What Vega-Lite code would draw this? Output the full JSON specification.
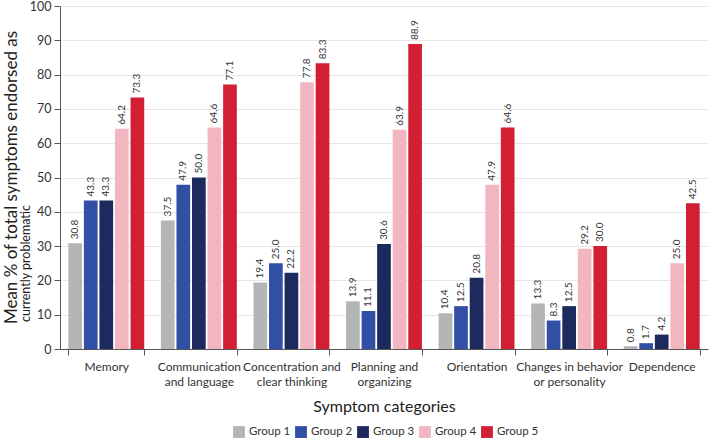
{
  "$schema": "https://vega.github.io/schema/vega-lite/v6.json",
  "width": 648,
  "height": 343,
  "autosize": {"type": "none"},
  "padding": {"left": 60, "top": 6, "right": 1, "bottom": 94},
  "background": "white",
  "title": {
    "text": "Mean % of total symptoms endorsed as",
    "orient": "left",
    "anchor": "middle",
    "frame": "group",
    "fontSize": 17,
    "fontWeight": "normal",
    "color": "#222222",
    "offset": -2
  },
  "config": {
    "font": "Lato",
    "view": {"stroke": null},
    "axis": {"labelColor": "#333333", "titleColor": "#222222", "titleFontWeight": "normal"}
  },
  "data": {
    "values": [
      {"category": "Memory", "group": "Group 1", "value": 30.8},
      {"category": "Memory", "group": "Group 2", "value": 43.3},
      {"category": "Memory", "group": "Group 3", "value": 43.3},
      {"category": "Memory", "group": "Group 4", "value": 64.2},
      {"category": "Memory", "group": "Group 5", "value": 73.3},
      {"category": "Communication and language", "group": "Group 1", "value": 37.5},
      {"category": "Communication and language", "group": "Group 2", "value": 47.9},
      {"category": "Communication and language", "group": "Group 3", "value": 50.0},
      {"category": "Communication and language", "group": "Group 4", "value": 64.6},
      {"category": "Communication and language", "group": "Group 5", "value": 77.1},
      {"category": "Concentration and clear thinking", "group": "Group 1", "value": 19.4},
      {"category": "Concentration and clear thinking", "group": "Group 2", "value": 25.0},
      {"category": "Concentration and clear thinking", "group": "Group 3", "value": 22.2},
      {"category": "Concentration and clear thinking", "group": "Group 4", "value": 77.8},
      {"category": "Concentration and clear thinking", "group": "Group 5", "value": 83.3},
      {"category": "Planning and organizing", "group": "Group 1", "value": 13.9},
      {"category": "Planning and organizing", "group": "Group 2", "value": 11.1},
      {"category": "Planning and organizing", "group": "Group 3", "value": 30.6},
      {"category": "Planning and organizing", "group": "Group 4", "value": 63.9},
      {"category": "Planning and organizing", "group": "Group 5", "value": 88.9},
      {"category": "Orientation", "group": "Group 1", "value": 10.4},
      {"category": "Orientation", "group": "Group 2", "value": 12.5},
      {"category": "Orientation", "group": "Group 3", "value": 20.8},
      {"category": "Orientation", "group": "Group 4", "value": 47.9},
      {"category": "Orientation", "group": "Group 5", "value": 64.6},
      {"category": "Changes in behavior or personality", "group": "Group 1", "value": 13.3},
      {"category": "Changes in behavior or personality", "group": "Group 2", "value": 8.3},
      {"category": "Changes in behavior or personality", "group": "Group 3", "value": 12.5},
      {"category": "Changes in behavior or personality", "group": "Group 4", "value": 29.2},
      {"category": "Changes in behavior or personality", "group": "Group 5", "value": 30.0},
      {"category": "Dependence", "group": "Group 1", "value": 0.8},
      {"category": "Dependence", "group": "Group 2", "value": 1.7},
      {"category": "Dependence", "group": "Group 3", "value": 4.2},
      {"category": "Dependence", "group": "Group 4", "value": 25.0},
      {"category": "Dependence", "group": "Group 5", "value": 42.5}
    ]
  },
  "encoding": {
    "x": {
      "field": "category",
      "type": "nominal",
      "sort": null,
      "scale": {"paddingInner": 0.18, "paddingOuter": 0.09},
      "axis": {
        "title": "Symptom categories",
        "titleFontSize": 16,
        "titlePadding": 11,
        "labelAngle": 0,
        "labelFontSize": 12,
        "labelLineHeight": 15,
        "labelPadding": 6,
        "tickBand": "extent",
        "tickSize": 6,
        "tickColor": "#555555",
        "domainColor": "#555555",
        "labelExpr": "datum.value == 'Communication and language' ? ['Communication', 'and language'] : datum.value == 'Concentration and clear thinking' ? ['Concentration and', 'clear thinking'] : datum.value == 'Planning and organizing' ? ['Planning and', 'organizing'] : datum.value == 'Changes in behavior or personality' ? ['Changes in behavior', 'or personality'] : datum.value"
      }
    },
    "xOffset": {
      "field": "group",
      "type": "nominal",
      "scale": {"paddingInner": 0.12}
    },
    "y": {
      "field": "value",
      "type": "quantitative",
      "scale": {"domain": [0, 100], "nice": false},
      "axis": {
        "title": "currently problematic",
        "titleFontSize": 12.5,
        "titleX": -31,
        "titleY": 257,
        "titleAngle": -90,
        "titleAlign": "center",
        "titleBaseline": "alphabetic",
        "values": [0, 10, 20, 30, 40, 50, 60, 70, 80, 90, 100],
        "labelFontSize": 12.5,
        "labelPadding": 3,
        "tickSize": 6,
        "tickColor": "#555555",
        "domainColor": "#555555",
        "gridColor": "#e6e6e6"
      }
    }
  },
  "layer": [
    {
      "mark": {"type": "bar"},
      "encoding": {
        "color": {
          "field": "group",
          "type": "nominal",
          "scale": {
            "domain": ["Group 1", "Group 2", "Group 3", "Group 4", "Group 5"],
            "range": ["#b4b5b7", "#3150a5", "#1d2a5d", "#f1b6c0", "#d31f34"]
          },
          "legend": {
            "title": null,
            "orient": "none",
            "legendX": 173,
            "legendY": 420,
            "direction": "horizontal",
            "symbolType": "square",
            "symbolSize": 140,
            "symbolStrokeWidth": 0,
            "labelFontSize": 11.5,
            "labelOffset": 4,
            "labelColor": "#333333",
            "columnPadding": 4
          }
        }
      }
    },
    {
      "mark": {"type": "text", "angle": 270, "align": "left", "baseline": "middle", "dx": 4, "fontSize": 10, "color": "#333333"},
      "encoding": {
        "text": {"field": "value", "type": "quantitative", "format": ".1f"}
      }
    }
  ]
}
